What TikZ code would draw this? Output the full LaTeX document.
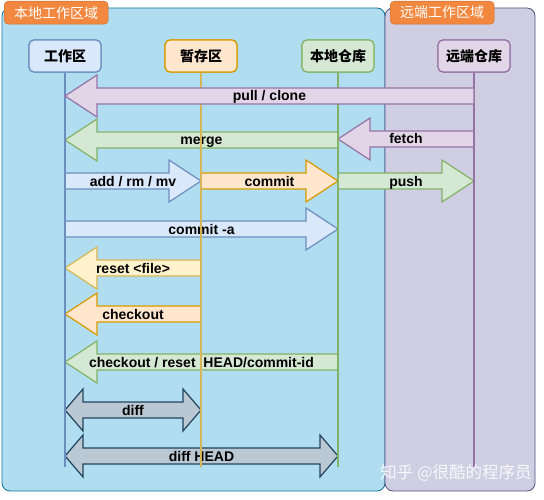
\documentclass[tikz,border=0pt]{standalone}
\usepackage{fontspec}
\setmainfont{Liberation Sans}
\newfontfamily\cjk{Noto Sans CJK SC}
\usetikzlibrary{calc}

\definecolor{localFill}{HTML}{B1DDF0}
\definecolor{localLine}{HTML}{10739E}
\definecolor{remoteFill}{HTML}{D0CEE2}
\definecolor{remoteLine}{HTML}{56517E}
\definecolor{tagFill}{HTML}{F2883F}
\definecolor{tagLine}{HTML}{C86E2C}
\definecolor{blueFill}{HTML}{DAE8FC}
\definecolor{blueLine}{HTML}{6C8EBF}
\definecolor{orangeFill}{HTML}{FFE6CC}
\definecolor{orangeLine}{HTML}{D79B00}
\definecolor{yellowFill}{HTML}{FFF2CC}
\definecolor{yellowLine}{HTML}{D6B656}
\definecolor{greenFill}{HTML}{D5E8D4}
\definecolor{greenLine}{HTML}{82B366}
\definecolor{purpleFill}{HTML}{E1D5E7}
\definecolor{purpleLine}{HTML}{9673A6}
\definecolor{grayFill}{HTML}{BAC8D3}
\definecolor{grayLine}{HTML}{23445D}

\tikzset{
	area/.style = {rounded corners = 8pt, line width = 0.8pt},
	areatag/.style = {draw = tagLine, fill = tagFill, rounded corners = 4pt, anchor = north west,
		minimum width = 104pt, minimum height = 23pt, inner sep = 0pt, text = white,
		font = \cjk\fontsize{14}{14}\selectfont},
	lane/.style = {draw, rounded corners = 5pt, minimum width = 72pt, minimum height = 32pt,
		line width = 1.2pt, font = \cjk\bfseries\fontsize{14}{14}\selectfont},
	lifeline/.style = {line width = 1.3pt},
	blk/.style = {line width = 1.2pt, line join = miter, font = \bfseries\fontsize{14}{14}\selectfont},
	blktext/.style = {text height = 10pt, text depth = 0pt}
}

% block arrow: style, tail node, tip node, y, label
\newcommand{\blockarrow}[5]{%
	\path[draw, blk, #1] let \p1 = (#2), \p2 = (#3), \p3 = (0,#4), \n1 = {sign(\x2-\x1)} in
		(\x1,{\y3+8pt}) -- ({\x2-(\n1)*32pt},{\y3+8pt}) -- ({\x2-(\n1)*32pt},{\y3+21pt}) -- (\x2,\y3)
		-- ({\x2-(\n1)*32pt},{\y3-21pt}) -- ({\x2-(\n1)*32pt},{\y3-8pt}) -- (\x1,{\y3-8pt}) -- cycle
		({(\x1+\x2)/2},\y3) node [blktext] {#5};
}

% double block arrow: style, left node, right node, y, label
\newcommand{\twowayarrow}[5]{%
	\path[draw, blk, #1] let \p1 = (#2), \p2 = (#3), \p3 = (0,#4) in
		(\x1,\y3) -- ({\x1+18pt},{\y3+21pt}) -- ({\x1+18pt},{\y3+8pt}) -- ({\x2-18pt},{\y3+8pt})
		-- ({\x2-18pt},{\y3+21pt}) -- (\x2,\y3) -- ({\x2-18pt},{\y3-21pt}) -- ({\x2-18pt},{\y3-8pt})
		-- ({\x1+18pt},{\y3-8pt}) -- ({\x1+18pt},{\y3-21pt}) -- cycle
		({(\x1+\x2)/2},\y3) node [blktext] {#5};
}

\begin{document}
\begin{tikzpicture}[x = 1pt, y = -1pt]
	\def\yEND{467};
	\useasboundingbox (0,0) rectangle (544,500);

	% areas
	\begin{scope}
		\draw [area, draw = localLine, fill = localFill] (2,8) rectangle (385,491);
		\draw [area, draw = remoteLine, fill = remoteFill] (385,8) rectangle (535,491);
		\node [areatag] (localtag) at (4,1) {本地工作区域};
		\node [areatag] (remotetag) at (390,1) {远端工作区域};
	\end{scope}

	% lanes
	\begin{scope}
		\node [lane, draw = blueLine, fill = blueFill] (wd) at (65,56) {工作区};
		\node [lane, draw = orangeLine, fill = orangeFill] (st) at (201,56) {暂存区};
		\node [lane, draw = greenLine, fill = greenFill] (lr) at (338,56) {本地仓库};
		\node [lane, draw = purpleLine, fill = purpleFill] (rr) at (474,56) {远端仓库};
	\end{scope}

	\begin{scope}
		\blockarrow{draw = greenLine, fill = greenFill}{lr}{wd}{140}{merge}
		\blockarrow{draw = purpleLine, fill = purpleFill}{rr}{lr}{139}{fetch}
		\blockarrow{draw = blueLine, fill = blueFill}{wd}{st}{181}{add / rm / mv}
		\blockarrow{draw = orangeLine, fill = orangeFill}{st}{lr}{181}{commit}
		\blockarrow{draw = greenLine, fill = greenFill}{lr}{rr}{181}{push}
		\blockarrow{draw = blueLine, fill = blueFill}{wd}{lr}{229}{commit -a}
		\blockarrow{draw = yellowLine, fill = yellowFill}{st}{wd}{268}{reset <file>}
		\blockarrow{draw = orangeLine, fill = orangeFill}{st}{wd}{314}{checkout}
		\blockarrow{draw = greenLine, fill = greenFill}{lr}{wd}{362}{checkout / reset\ \ HEAD/commit-id}
		\twowayarrow{draw = grayLine, fill = grayFill}{wd}{st}{410}{diff}
		\twowayarrow{draw = grayLine, fill = grayFill}{wd}{lr}{456}{diff HEAD}
	\end{scope}

	\begin{scope}[lifeline]
		\draw [blueLine] (wd) -- (wd |- 0,\yEND);
		\draw [yellowLine] (st) -- (st |- 0,\yEND);
		\draw [greenLine] (lr) -- (lr |- 0,\yEND);
		\draw [purpleLine] (rr) -- (rr |- 0,\yEND);
	\end{scope}

	% lanes again, over the lifelines
	\begin{scope}
		\node [lane, draw = blueLine, fill = blueFill] at (wd) {工作区};
		\node [lane, draw = orangeLine, fill = orangeFill] at (st) {暂存区};
		\node [lane, draw = greenLine, fill = greenFill] at (lr) {本地仓库};
		\node [lane, draw = purpleLine, fill = purpleFill] at (rr) {远端仓库};
	\end{scope}

	\blockarrow{draw = purpleLine, fill = purpleFill}{rr}{wd}{96}{pull / clone}

	\node [text = white, opacity = 0.85, font = \cjk\fontsize{16.5}{16.5}\selectfont] (mark) at (456,473) {知乎 @很酷的程序员};
\end{tikzpicture}
\end{document}
